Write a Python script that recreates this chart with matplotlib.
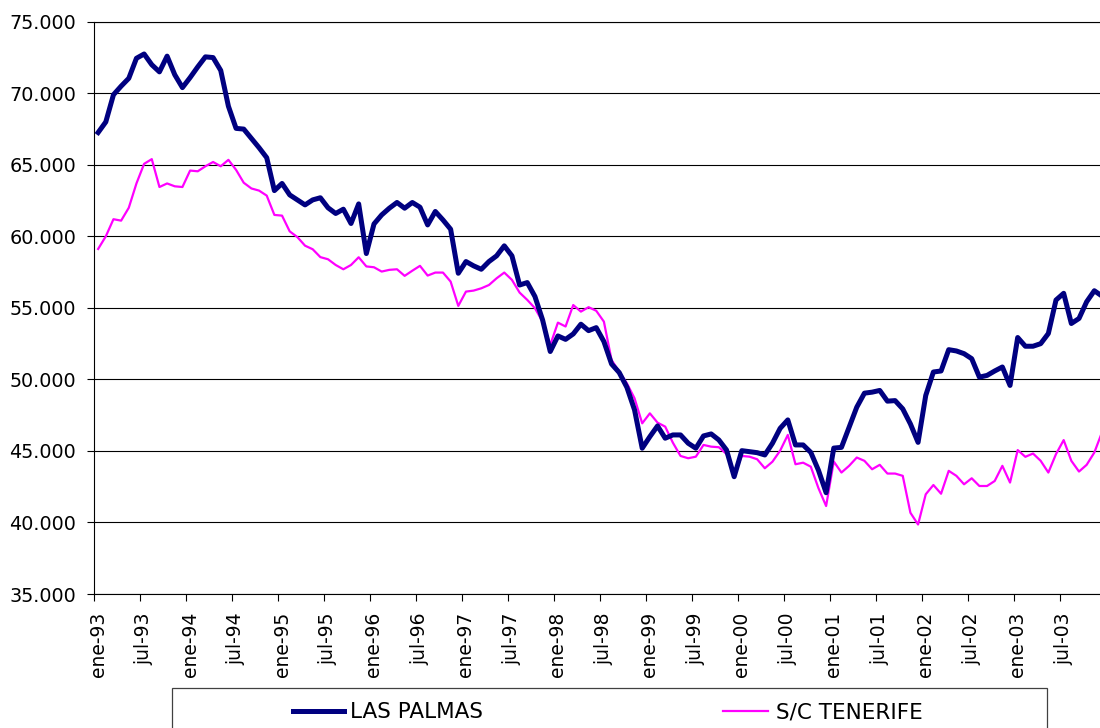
#!/usr/bin/env python3
"""Monthly series Las Palmas vs S/C Tenerife, ene-93 to dic-03."""

import matplotlib

matplotlib.use("Agg")
import matplotlib.pyplot as plt
from matplotlib.lines import Line2D
from matplotlib.patches import Rectangle
from matplotlib.ticker import FuncFormatter
import numpy as np


NAVY = "#000080"
MAGENTA = "#FF00FF"

MONTHS = ["ene", "feb", "mar", "abr", "may", "jun",
          "jul", "ago", "sep", "oct", "nov", "dic"]
YEARS = list(range(1993, 2004))

LAS_PALMAS = [
    67260, 68000, 69900, 70500, 71050, 72450, 72750, 72000, 71500, 72600, 71300, 70400,
    71100, 71850, 72550, 72500, 71600, 69100, 67550, 67500, 66850, 66200, 65500, 63200,
    63700, 62900, 62550, 62200, 62550, 62700, 62000, 61600, 61900, 60900, 62270, 58800,
    60870, 61500, 61970, 62370, 61970, 62370, 62040, 60800, 61740, 61150, 60500, 57420,
    58240, 57940, 57700, 58240, 58640, 59340, 58640, 56600, 56770, 55800, 54160, 51950,
    53040, 52800, 53180, 53860, 53410, 53620, 52650, 51080, 50480, 49450, 47870, 45190,
    46000, 46750, 45890, 46120, 46120, 45540, 45190, 46050, 46190, 45770, 45070, 43200,
    45020, 44950, 44880, 44720, 45540, 46580, 47170, 45420, 45420, 44900, 43650, 42080,
    45200, 45250, 46650, 48060, 49040, 49110, 49230, 48480, 48520, 47940, 46890, 45600,
    48880, 50520, 50590, 52080, 51990, 51800, 51450, 50160, 50280, 50590, 50870, 49580,
    52930, 52320, 52320, 52500, 53210, 55550, 56020, 53910, 54260, 55430, 56200, 55830,
]

TENERIFE = [
    59120, 60000, 61200, 61100, 62000, 63700, 65070, 65400, 63450, 63700, 63500, 63450,
    64600, 64550, 64900, 65200, 64900, 65350, 64650, 63750, 63350, 63200, 62850, 61500,
    61450, 60350, 59950, 59350, 59100, 58550, 58400, 58000, 57700, 58000, 58540, 57900,
    57840, 57540, 57660, 57700, 57240, 57600, 57940, 57260, 57470, 57470, 56840, 55140,
    56140, 56210, 56370, 56600, 57070, 57470, 56960, 56070, 55560, 54980, 54040, 52410,
    53970, 53700, 55200, 54740, 55050, 54800, 54040, 51360, 50550, 49730, 48680, 46930,
    47630, 46980, 46700, 45580, 44650, 44490, 44600, 45420, 45300, 45260, 44790, 43320,
    44650, 44600, 44420, 43790, 44250, 45020, 46120, 44070, 44180, 43900, 42400, 41150,
    44260, 43490, 43960, 44540, 44310, 43720, 44030, 43420, 43420, 43260, 40680, 39860,
    41970, 42620, 42010, 43610, 43260, 42670, 43090, 42550, 42550, 42900, 43960, 42790,
    45060, 44590, 44820, 44310, 43490, 44780, 45760, 44310, 43560, 44030, 44890, 46300,
]

SERIES_NAMES = ["LAS PALMAS", "S/C TENERIFE"]

W, H = 1100, 728


def thousands(value, _pos=None):
  return f"{int(round(value)):,}".replace(",", ".")


def px(x, y):
  # pixel coords (top-left origin) -> figure fraction
  return x / W, 1 - y / H


def main() -> None:
  plt.rcParams["font.family"] = "DejaVu Sans"
  fig = plt.figure(figsize=(W / 100, H / 100), dpi=100)
  fig.patch.set_facecolor("white")

  n = len(LAS_PALMAS)
  left, bottom = px(94.3, 594)
  width = (n * 7.663) / W
  height = (594 - 21.8) / H
  ax = fig.add_axes([left, bottom, width, height])

  x = np.arange(n) + 0.5
  ax.plot(x, TENERIFE, color=MAGENTA, linewidth=1.6, zorder=3)
  ax.plot(x, LAS_PALMAS, color=NAVY, linewidth=3.6, zorder=4,
          solid_joinstyle="round")

  ax.set_xlim(0, n)
  ax.set_ylim(35000, 75000)
  ax.set_yticks(np.arange(35000, 75001, 5000))
  ax.yaxis.set_major_formatter(FuncFormatter(thousands))
  ax.grid(True, axis="y", color="black", linewidth=0.8)
  ax.set_axisbelow(True)

  labels = []
  for year in YEARS:
    for m in (0, 6):
      labels.append(f"{MONTHS[m]}-{year % 100:02d}")
  labels = labels[: (n + 5) // 6]
  major = np.arange(0, n + 1, 6)
  ax.set_xticks(major)
  ax.set_xticklabels([])
  ax.set_xticks(np.arange(len(labels)) * 6 + 0.5, minor=True)
  ax.set_xticklabels(labels, minor=True, rotation=90)
  ax.tick_params(axis="x", which="major", direction="out", length=5,
                 width=0.8, color="black")
  ax.tick_params(axis="x", which="minor", length=0, pad=13, labelsize=13.5)
  ax.tick_params(axis="y", direction="out", length=5, width=0.8,
                 pad=8, labelsize=13.8)

  for side in ("left", "bottom", "top"):
    ax.spines[side].set_color("black")
    ax.spines[side].set_linewidth(0.8)
  ax.spines["right"].set_visible(False)

  # legend box at the bottom, entries centered in each half
  x0, y0 = px(171.5, 688)
  x1, y1 = px(1047, 740)
  fig.add_artist(Rectangle((x0, y1), x1 - x0, y0 - y1, transform=fig.transFigure,
                           facecolor="white", edgecolor="#404040", linewidth=0.9,
                           clip_on=False))
  entries = [
      (293, 344, 350, NAVY, 3.6, SERIES_NAMES[0]),
      (723, 768, 776, MAGENTA, 1.6, SERIES_NAMES[1]),
  ]
  for xa, xb, xt, color, lw, name in entries:
    ya = px(0, 711)[1]
    fig.add_artist(Line2D([xa / W, xb / W], [ya, ya], transform=fig.transFigure,
                          color=color, linewidth=lw))
    fig.text(xt / W, px(0, 712.5)[1], name, fontsize=15.5, va="center", ha="left")

  fig.savefig("out.png", dpi=100)
  plt.close(fig)


if __name__ == "__main__":
  main()
